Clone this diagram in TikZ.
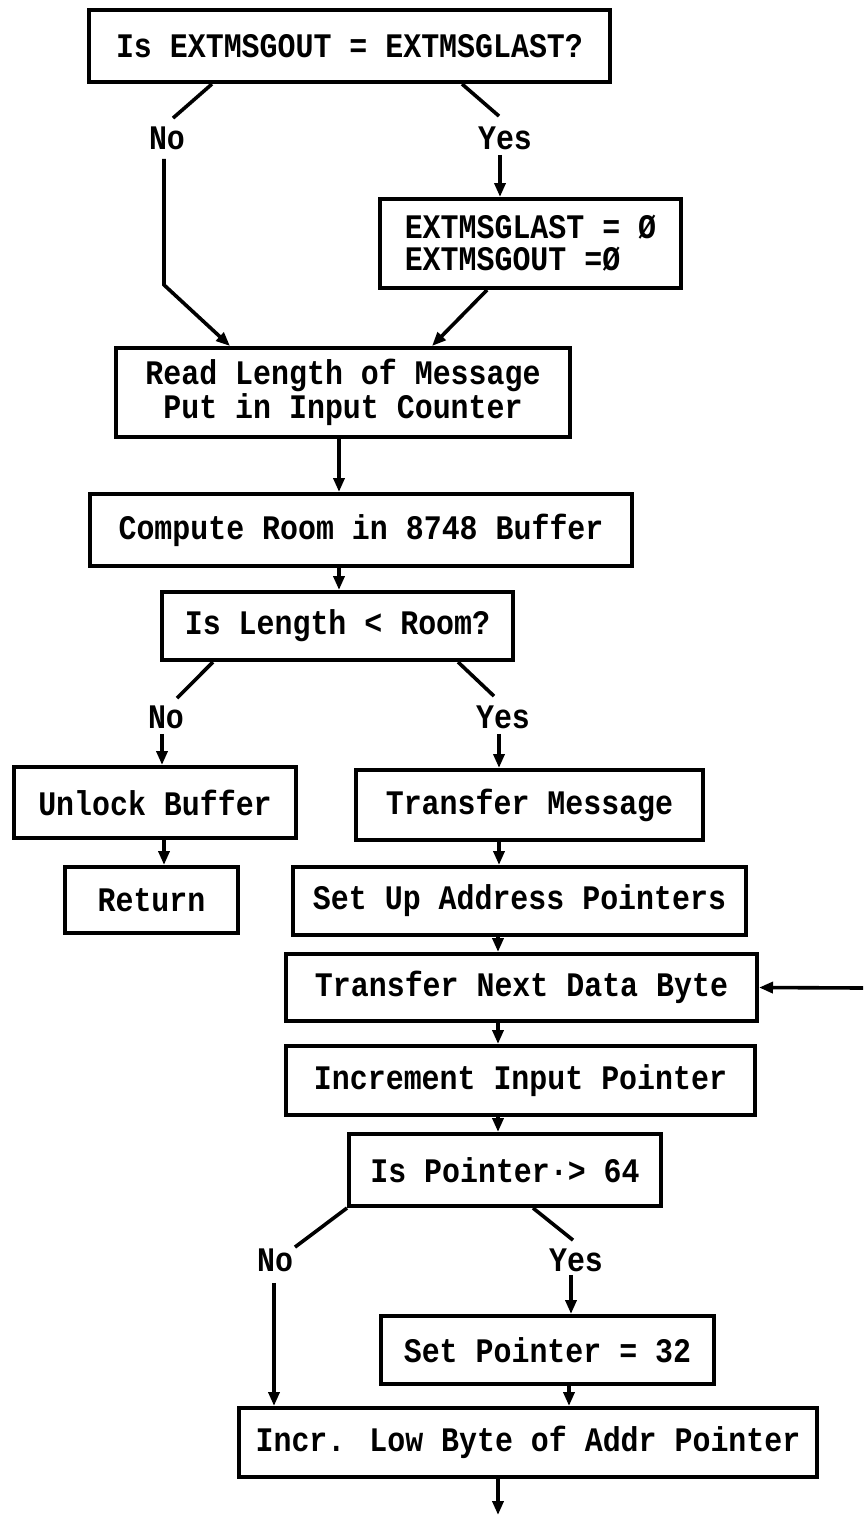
\documentclass[tikz,border=0pt]{standalone}
\usepackage{fontspec}
\newfontfamily\twfont[FakeStretch=0.87]{Liberation Mono}
\usetikzlibrary{arrows.meta,calc}
\begin{document}
\begin{tikzpicture}[x=0.5pt,y=-0.5pt,
  txt/.style={font=\twfont\bfseries\fontsize{17.2}{16}\selectfont},
  box/.style={txt, draw, line width=2pt, rectangle, inner sep=0pt},
  lbl/.style={txt, inner sep=0pt},
  conn/.style={line width=1.8pt},
  arr/.style={line width=1.8pt, -{Triangle[length=7pt,width=5.5pt]}}]
\useasboundingbox (0,0) rectangle (863,1515);
\fill[white] (0,0) rectangle (863,1515);

% boxes
\node[box, minimum width=260.5pt, minimum height=36pt] (b1) at (349.5,46) {Is EXTMSGOUT = EXTMSGLAST?};
\node[box, minimum width=150.5pt, minimum height=44.5pt, align=left] (b2) at (530.5,243.5) {EXTMSGLAST = Ø\\EXTMSGOUT =Ø};
\node[box, minimum width=227pt, minimum height=44.5pt, align=center] (b3) at (343,392.5) {Read Length of Message\\Put in Input Counter};
\node[box, minimum width=271pt, minimum height=36pt] (b4) at (361,530) {Compute Room in 8748 Buffer};
\node[box, minimum width=175.5pt, minimum height=34pt] (b5) at (337.5,626) {Is Length < Room?};
\node[box, minimum width=141pt, minimum height=35.5pt] (b6) at (155,802.5) {Unlock Buffer};
\node[box, minimum width=86.5pt, minimum height=33pt] (b7) at (151.5,900) {Return};
\node[box, minimum width=173.5pt, minimum height=35pt] (b8) at (529.5,805) {Transfer Message};
\node[box, minimum width=226.5pt, minimum height=34pt] (b9) at (519.5,901) {Set Up Address Pointers};
\node[box, minimum width=235.5pt, minimum height=33.5pt] (b10) at (521.5,987.5) {Transfer Next Data Byte};
\node[box, minimum width=234.5pt, minimum height=34.5pt] (b11) at (520.5,1080.5) {Increment Input Pointer};
\node[box, minimum width=156pt, minimum height=36pt] (b12) at (505,1170) {Is Pointer·> 64};
\node[box, minimum width=166.5pt, minimum height=34pt] (b13) at (547.5,1350) {Set Pointer = 32};
\node[box, minimum width=289pt, minimum height=34.5pt] (b14) at (528,1442.5) {Incr. Low Byte of Addr Pointer};

% labels
\node[lbl] (noA) at (167,138) {No};
\node[lbl] (yesA) at (505,138) {Yes};
\node[lbl] (noB) at (166,717) {No};
\node[lbl] (yesB) at (503,717) {Yes};
\node[lbl] (noC) at (275,1260) {No};
\node[lbl] (yesC) at (576,1260) {Yes};

\coordinate (loopin) at (863,988);
\coordinate (out) at (498,1515);

% first decision
\draw[conn] ($(b1.south)+(-137.5,0)$) -- ($(noA.north)+(6,-8)$);
\draw[arr] ($(noA.south)+(-3,9)$) -- ($(noA.south)+(-3,135)$) -- ($(b3.north)+(-113,0)$);
\draw[conn] ($(b1.south)+(112.5,0)$) -- ($(yesA.north)+(-6,-10)$);
\draw[arr] ($(yesA.south)+(-5,5)$) -- ($(b2.north)+(-30.5,0)$);
\draw[arr] ($(b2.south)+(-43.5,0)$) -- ($(b3.north)+(89,0)$);

\draw[arr] ($(b3.south)+(-4,0)$) -- ($(b4.north)+(-22,0)$);
\draw[arr] ($(b4.south)+(-22,0)$) -- ($(b5.north)+(1.5,0)$);

% second decision
\draw[conn] ($(b5.south)+(-124.5,0)$) -- ($(noB.north)+(11,-7)$);
\draw[arr] ($(noB.south)+(-4,5)$) -- ($(b6.north)+(7,0)$);
\draw[conn] ($(b5.south)+(120.5,0)$) -- ($(yesB.north)+(-9,-9)$);
\draw[arr] ($(yesB.south)+(-4,5)$) -- ($(b8.north)+(-30.5,0)$);

\draw[arr] ($(b6.south)+(9,0)$) -- ($(b7.north)+(12.5,0)$);
\draw[arr] ($(b8.south)+(-30.5,0)$) -- ($(b9.north)+(-20.5,0)$);
\draw[arr] ($(b9.south)+(-21.5,0)$) -- ($(b10.north)+(-23.5,0)$);
\draw[arr] (loopin) -- (b10.east);
\draw[arr] ($(b10.south)+(-23.5,0)$) -- ($(b11.north)+(-22.5,0)$);
\draw[arr] ($(b11.south)+(-22.5,0)$) -- ($(b12.north)+(-7,0)$);

% third decision
\draw[conn] (b12.south west) -- ($(noC.north)+(20,-1)$);
\draw[arr] ($(noC.south)+(-1,11)$) -- ($(b14.north)+(-254,0)$);
\draw[conn] ($(b12.south)+(28,0)$) -- ($(yesC.north)+(-3,-8)$);
\draw[arr] ($(yesC.south)+(-5,3)$) -- ($(b13.north)+(23.5,0)$);
\draw[arr] ($(b13.south)+(21.5,0)$) -- ($(b14.north)+(41,0)$);
\draw[arr] ($(b14.south)+(-30,0)$) -- (out);
\end{tikzpicture}
\end{document}
